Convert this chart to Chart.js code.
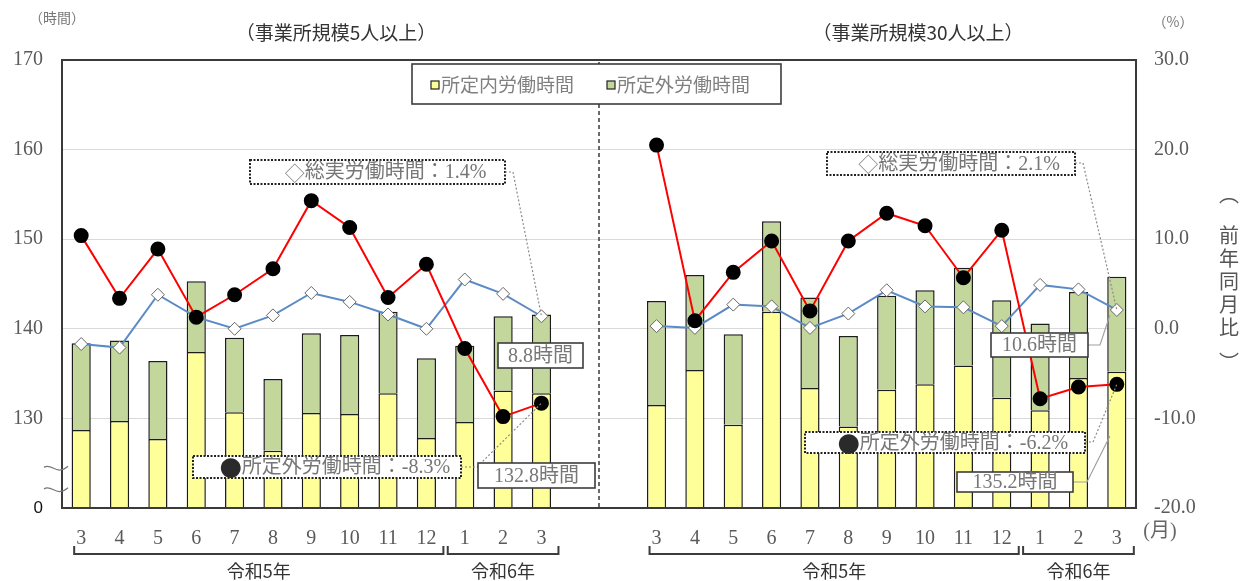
<!DOCTYPE html>
<html lang="ja">
<head>
<meta charset="utf-8">
<title>労働時間の推移</title>
<script src="https://cdn.jsdelivr.net/npm/chart.js@4.4.1/dist/chart.umd.min.js"></script>
<style>
  html, body { margin: 0; padding: 0; background: #fff; }
  #wrap { position: relative; width: 1249px; height: 581px; }
</style>
</head>
<body>
<div id="wrap"><canvas id="c-hours"></canvas></div>
<script>
// months, shared by both panels
const months = ["3", "4", "5", "6", "7", "8", "9", "10", "11", "12", "1", "2", "3"];
const gapLabels = ["", ""];

// 事業所規模5人以上
const scheduled5 = [128.7, 129.7, 127.7, 137.4, 130.7, 126.4, 130.6, 130.5, 132.8, 127.8, 129.6, 133.1, 132.8];
const overtime5 = [9.7, 9.0, 8.7, 7.9, 8.3, 8.0, 8.9, 8.8, 9.1, 8.9, 8.5, 8.3, 8.8];
const totalPct5 = [-1.7, -2.1, 3.8, 1.3, 0.0, 1.5, 4.0, 3.0, 1.6, 0.0, 5.5, 3.9, 1.4];
const overtimePct5 = [10.4, 3.4, 8.9, 1.3, 3.8, 6.7, 14.3, 11.3, 3.5, 7.2, -2.2, -9.8, -8.3];

// 事業所規模30人以上
const scheduled30 = [131.5, 135.4, 129.3, 141.9, 133.4, 129.1, 133.2, 133.8, 135.9, 132.3, 130.9, 134.5, 135.2];
const overtime30 = [11.6, 10.6, 10.1, 10.1, 10.1, 10.1, 10.5, 10.5, 10.9, 10.9, 9.7, 9.6, 10.6];
const totalPct30 = [0.3, 0.1, 2.7, 2.5, 0.1, 1.7, 4.3, 2.5, 2.4, 0.3, 4.9, 4.4, 2.1];
const overtimePct30 = [20.5, 0.9, 6.3, 9.8, 2.0, 9.8, 12.9, 11.5, 5.7, 11.0, -7.8, -6.5, -6.2];

// axis ticks
const hourTicks = [120, 130, 140, 150, 160, 170];
const pctTicks = [-20, -10, 0, 10, 20, 30];

const withGap = (a, b) => [...a, null, null, ...b];
const labels = [...months, ...gapLabels, ...months];
const lastL = months.length - 1;
const lastR = labels.length - 1;

const SERIF = '"Liberation Serif", "Noto Sans CJK JP", serif';
const JP = '"Noto Sans CJK JP", sans-serif';
const MIX = '"Liberation Serif", "Noto Sans CJK JP", serif';

function text(ctx, str, x, y, font, color, align) {
  ctx.font = font;
  ctx.fillStyle = color;
  ctx.textAlign = align || "center";
  ctx.textBaseline = "middle";
  ctx.fillText(str, x, y);
}

function box(ctx, x1, y1, x2, y2, dotted) {
  ctx.save();
  ctx.fillStyle = "#fff";
  ctx.fillRect(x1, y1, x2 - x1, y2 - y1);
  ctx.strokeStyle = dotted ? "#222" : "#3c3c3c";
  ctx.lineWidth = dotted ? 2 : 1.6;
  ctx.setLineDash(dotted ? [2, 1.5] : []);
  ctx.strokeRect(x1, y1, x2 - x1, y2 - y1);
  ctx.restore();
}

function leader(ctx, pts, dotted) {
  ctx.save();
  ctx.strokeStyle = dotted ? "#8a8a8a" : "#a0a0a0";
  ctx.lineWidth = 1.2;
  ctx.setLineDash(dotted ? [2, 2] : []);
  ctx.beginPath();
  pts.forEach((p, i) => (i ? ctx.lineTo(p[0], p[1]) : ctx.moveTo(p[0], p[1])));
  ctx.stroke();
  ctx.restore();
}

// callout with a marker character in front
function callout(ctx, b, mark, body) {
  box(ctx, b[0], b[1], b[2], b[3], true);
  const markFont = (mark === "●" ? "22px " : "20px ") + JP;
  ctx.font = markFont;
  const wm = ctx.measureText(mark).width;
  ctx.font = "20px " + MIX;
  const wb = ctx.measureText(body).width;
  const x0 = (b[0] + b[2]) / 2 - (wm + wb) / 2 + 8;
  const y = (b[1] + b[3]) / 2 + 1;
  text(ctx, mark, x0, y, markFont, mark === "●" ? "#2a2a2a" : "#888", "left");
  text(ctx, body, x0 + wm, y, "20px " + MIX, "#777", "left");
}

function valueBox(ctx, b, str) {
  box(ctx, b[0], b[1], b[2], b[3], false);
  text(ctx, str, (b[0] + b[2]) / 2, (b[1] + b[3]) / 2 + 1, "20px " + MIX, "#777");
}

function bracket(ctx, x1, x2, label) {
  ctx.save();
  ctx.strokeStyle = "#3c3c3c";
  ctx.lineWidth = 2;
  ctx.beginPath();
  ctx.moveTo(x1, 546);
  ctx.lineTo(x1, 554);
  ctx.lineTo(x2, 554);
  ctx.lineTo(x2, 546);
  ctx.stroke();
  ctx.restore();
  text(ctx, label, (x1 + x2) / 2, 571, "18px " + JP, "#333");
}

const decor = {
  id: "decor",
  afterDraw(chart) {
    const { ctx, chartArea: a, scales } = chart;
    const x = scales.x, y = scales.y;
    const red = chart.getDatasetMeta(0).data;
    const blue = chart.getDatasetMeta(1).data;
    ctx.save();

    // plot frame and panel divider
    ctx.strokeStyle = "#3a3a3a";
    ctx.lineWidth = 2;
    ctx.strokeRect(a.left, a.top, a.right - a.left, a.bottom - a.top);
    const mid = (x.getPixelForValue(13) + x.getPixelForValue(14)) / 2;
    ctx.lineWidth = 1.5;
    ctx.setLineDash([4, 3]);
    ctx.beginPath();
    ctx.moveTo(mid, a.top + 2);
    ctx.lineTo(mid, a.bottom);
    ctx.stroke();
    ctx.setLineDash([]);

    // axis break marks
    [y.getPixelForValue(124.2), y.getPixelForValue(121.8)].forEach((yy) => {
      ctx.strokeStyle = "#777";
      ctx.lineWidth = 1.3;
      ctx.beginPath();
      ctx.moveTo(a.left - 18, yy - 3);
      ctx.bezierCurveTo(a.left - 10, yy - 8, a.left - 6, yy + 6, a.left + 6, yy - 4);
      ctx.stroke();
    });

    // legend
    box(ctx, 412, 64, 781, 104, false);
    [[431, "所定内労働時間", chart.data.datasets[2].backgroundColor], [607, "所定外労働時間", chart.data.datasets[3].backgroundColor]].forEach(([lx, str, col]) => {
      ctx.fillStyle = col;
      ctx.fillRect(lx, 81, 8, 8);
      ctx.strokeStyle = "#222";
      ctx.lineWidth = 1.2;
      ctx.strokeRect(lx, 81, 8, 8);
      text(ctx, str, lx + 10, 85, "19px " + JP, "#808080", "left");
    });

    // callouts, left panel
    callout(ctx, [250, 160, 505, 184], "◇", "総実労働時間：1.4%");
    leader(ctx, [[505, 172], [513, 172], [blue[lastL].x, blue[lastL].y]], true);
    callout(ctx, [193, 456, 461, 478], "●", "所定外労働時間：-8.3%");
    leader(ctx, [[461, 467], [477, 467], [red[lastL].x, red[lastL].y]], true);
    valueBox(ctx, [498, 343, 583, 368], "8.8時間");
    valueBox(ctx, [478, 463, 595, 488], "132.8時間");

    // callouts, right panel
    callout(ctx, [827, 152, 1075, 175], "◇", "総実労働時間：2.1%");
    leader(ctx, [[1075, 163], [1083, 163], [blue[lastR].x, blue[lastR].y]], true);
    callout(ctx, [805, 432, 1085, 453], "●", "所定外労働時間：-6.2%");
    leader(ctx, [[1085, 442], [1093, 442], [red[lastR].x, red[lastR].y]], true);
    const bx = x.getPixelForValue(lastR) - 7;
    leader(ctx, [[1088, 345], [1100, 345], [bx, y.getPixelForValue(141.5)]], false);
    valueBox(ctx, [991, 333, 1088, 357], "10.6時間");
    leader(ctx, [[1073, 482], [1087, 482], [bx, y.getPixelForValue(128)]], false);
    valueBox(ctx, [957, 472, 1073, 492], "135.2時間");

    // titles and units
    text(ctx, "（事業所規模5人以上）", 336, 33, "19px " + JP, "#333");
    text(ctx, "（事業所規模30人以上）", 918, 33, "19px " + JP, "#333");
    text(ctx, "（時間）", 57, 18, "14px " + JP, "#777");
    text(ctx, "（%）", 1173, 22, "14px " + JP, "#777");
    text(ctx, "(月)", 1160, 532, "20px " + MIX, "#666");
    const vt = ["︵", "前", "年", "同", "月", "比", "︶"];
    const vy = [194, 235, 258, 281, 304, 327, 362];
    vt.forEach((ch, i) => text(ctx, ch, 1229, vy[i], "20px " + JP, "#555"));

    // year brackets
    bracket(ctx, x.getPixelForValue(0) - 7, x.getPixelForValue(9) + 17, "令和5年");
    bracket(ctx, x.getPixelForValue(10) - 17, x.getPixelForValue(lastL) + 17, "令和6年");
    bracket(ctx, x.getPixelForValue(15) - 7, x.getPixelForValue(24) + 17, "令和5年");
    bracket(ctx, x.getPixelForValue(25) - 17, x.getPixelForValue(lastR) + 17, "令和6年");

    ctx.restore();
  }
};

new Chart(document.getElementById("c-hours"), {
  data: {
    labels,
    datasets: [
      { type: "line", label: "所定外労働時間（前年同月比）", data: withGap(overtimePct5, overtimePct30), yAxisID: "y2", borderColor: "#ff0000", borderWidth: 2, tension: 0, pointRadius: 6.5, pointBackgroundColor: "#000", pointBorderColor: "#000", order: 1 },
      { type: "line", label: "総実労働時間（前年同月比）", data: withGap(totalPct5, totalPct30), yAxisID: "y2", borderColor: "#5b8bc6", borderWidth: 2, tension: 0, pointStyle: "rectRot", pointRadius: 6.5, pointBackgroundColor: "#fff", pointBorderColor: "#666", pointBorderWidth: 1, order: 2 },
      { type: "bar", label: "所定内労働時間", data: withGap(scheduled5, scheduled30), yAxisID: "y", backgroundColor: "#ffff99", borderColor: "#1c1c1c", borderWidth: 1.5, barPercentage: 0.5, categoryPercentage: 1, order: 3 },
      { type: "bar", label: "所定外労働時間", data: withGap(overtime5, overtime30), yAxisID: "y", backgroundColor: "#c3d69b", borderColor: "#1c1c1c", borderWidth: 1.5, barPercentage: 0.5, categoryPercentage: 1, order: 4 }
    ]
  },
  options: {
    responsive: true,
    maintainAspectRatio: false,
    animation: false,
    layout: { padding: { top: 60, left: 0, right: 0, bottom: 0 } },
    plugins: { legend: { display: false }, tooltip: { enabled: false } },
    scales: {
      x: {
        stacked: true,
        offset: true,
        grid: { display: false },
        border: { display: false },
        ticks: { color: "#5a5a5a", font: { family: SERIF, size: 20 }, padding: 11, maxRotation: 0, autoSkip: false },
        afterFit: (s) => { s.height = 73; }
      },
      y: {
        position: "left",
        stacked: true,
        min: hourTicks[0],
        max: hourTicks[hourTicks.length - 1],
        afterBuildTicks: (s) => { s.ticks = hourTicks.map((v) => ({ value: v })); },
        grid: {
          drawTicks: false,
          color: (c) => (c.tick && (c.tick.value === 120 || c.tick.value === 170) ? "rgba(0,0,0,0)" : "#d9d9d9")
        },
        border: { display: false },
        ticks: {
          padding: 19,
          callback: (v) => (v === 120 ? "0" : String(v)),
          color: (c) => (c.tick && c.tick.value === 120 ? "#111" : "#5a5a5a"),
          font: (c) => (c.tick && c.tick.value === 120 ? { family: "Liberation Sans", size: 17 } : { family: SERIF, size: 20 })
        },
        afterFit: (s) => { s.width = 62; }
      },
      y2: {
        position: "right",
        min: pctTicks[0],
        max: pctTicks[pctTicks.length - 1],
        afterBuildTicks: (s) => { s.ticks = pctTicks.map((v) => ({ value: v })); },
        grid: { display: false, drawTicks: false },
        border: { display: false },
        ticks: { padding: 18, color: "#5a5a5a", font: { family: SERIF, size: 20 }, callback: (v) => v.toFixed(1) },
        afterFit: (s) => { s.width = 113; }
      }
    }
  },
  plugins: [decor]
});
</script>
</body>
</html>
